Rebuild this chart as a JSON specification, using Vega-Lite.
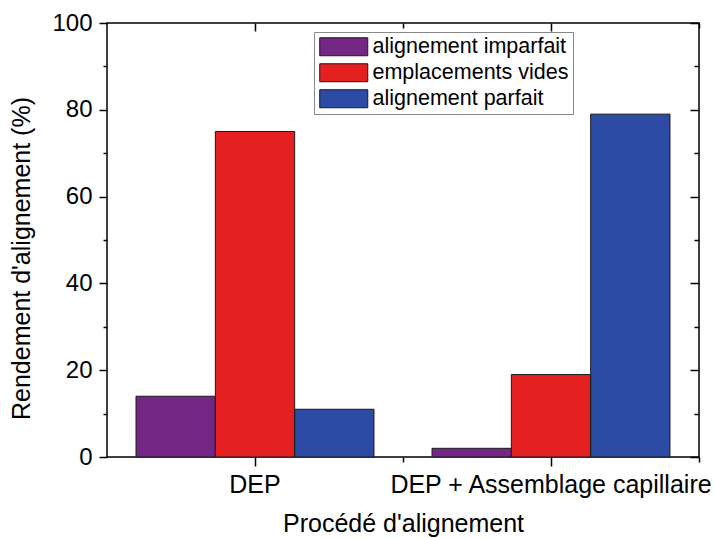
{
  "$schema": "https://vega.github.io/schema/vega-lite/v6.json",
  "autosize": {"type": "none"},
  "width": 592,
  "height": 434,
  "padding": {"left": 107, "top": 23, "right": 15, "bottom": 81},
  "background": "white",
  "config": {
    "view": {"stroke": "black", "strokeWidth": 1.5},
    "font": "Liberation Sans",
    "axis": {
      "labelFont": "Liberation Sans",
      "titleFont": "Liberation Sans",
      "labelColor": "black",
      "titleColor": "black",
      "tickColor": "black",
      "tickWidth": 1.5,
      "titleFontWeight": "normal",
      "labelLimit": 0,
      "grid": false,
      "domain": false
    },
    "legend": {"labelFont": "Liberation Sans", "labelColor": "black", "labelLimit": 0}
  },
  "data": {
    "values": [
      {"Procede": "DEP", "Type": "alignement imparfait", "Rendement": 14},
      {"Procede": "DEP", "Type": "emplacements vides", "Rendement": 75},
      {"Procede": "DEP", "Type": "alignement parfait", "Rendement": 11},
      {"Procede": "DEP + Assemblage capillaire", "Type": "alignement imparfait", "Rendement": 2},
      {"Procede": "DEP + Assemblage capillaire", "Type": "emplacements vides", "Rendement": 19},
      {"Procede": "DEP + Assemblage capillaire", "Type": "alignement parfait", "Rendement": 79}
    ]
  },
  "resolve": {"axis": {"x": "independent", "y": "independent"}},
  "layer": [
    {
      "mark": {"type": "bar", "stroke": "#1a1a1a", "strokeWidth": 1},
      "encoding": {
        "x": {
          "field": "Procede", "type": "nominal",
          "sort": ["DEP", "DEP + Assemblage capillaire"],
          "scale": {"paddingInner": 0, "paddingOuter": 0},
          "axis": {
            "orient": "bottom",
            "title": "Procédé d'alignement",
            "labelAngle": 0,
            "labelFontSize": 25,
            "titleFontSize": 25,
            "tickSize": 9,
            "labelPadding": 6,
            "titlePadding": 14
          }
        },
        "xOffset": {
          "field": "Type", "type": "nominal",
          "sort": ["alignement imparfait", "emplacements vides", "alignement parfait"],
          "scale": {"paddingInner": 0, "paddingOuter": 0.366}
        },
        "y": {
          "field": "Rendement", "type": "quantitative", "stack": null,
          "scale": {"domain": [0, 100], "nice": false},
          "axis": {
            "orient": "left",
            "title": "Rendement d'alignement (%)",
            "values": [0, 10, 20, 30, 40, 50, 60, 70, 80, 90, 100],
            "labelExpr": "datum.value % 20 === 0 ? datum.label : ''",
            "tickSize": {"condition": {"test": "datum.value % 20 === 0", "value": 8}, "value": 4},
            "labelFontSize": 24,
            "titleFontSize": 25,
            "labelPadding": 7,
            "titlePadding": 17,
            "titleY": 235
          }
        },
        "color": {
          "field": "Type", "type": "nominal",
          "scale": {
            "domain": ["alignement imparfait", "emplacements vides", "alignement parfait"],
            "range": ["#732684", "#E42020", "#2D4BA5"]
          },
          "legend": {
            "title": null,
            "orient": "none",
            "legendX": 207,
            "legendY": 9,
            "direction": "vertical",
            "symbolType": "M-2.667,-1L2.667,-1L2.667,1L-2.667,1Z",
            "symbolSize": 324,
            "symbolOffset": 15,
            "symbolStrokeColor": "#1a1a1a",
            "symbolStrokeWidth": 1,
            "symbolOpacity": 1,
            "labelFontSize": 21.5,
            "labelOffset": 18,
            "rowPadding": 3,
            "padding": 4,
            "strokeColor": "#888888",
            "fillColor": "white"
          }
        }
      }
    },
    {
      "mark": {"type": "bar", "opacity": 0},
      "encoding": {
        "x": {
          "field": "Procede", "type": "nominal",
          "sort": ["DEP", "DEP + Assemblage capillaire"],
          "axis": {"orient": "bottom", "bandPosition": 1, "tickSize": 5, "labels": false, "title": null}
        },
        "y": {
          "field": "Rendement", "type": "quantitative", "stack": null,
          "axis": {
            "orient": "right",
            "title": null,
            "labels": false,
            "values": [0, 10, 20, 30, 40, 50, 60, 70, 80, 90, 100],
            "tickSize": {"condition": {"test": "datum.value % 20 === 0", "value": -9}, "value": -5}
          }
        }
      }
    },
    {
      "mark": {"type": "bar", "opacity": 0},
      "encoding": {
        "x": {
          "field": "Procede", "type": "nominal",
          "sort": ["DEP", "DEP + Assemblage capillaire"],
          "axis": {"orient": "top", "tickSize": -8, "labels": false, "title": null}
        },
        "y": {"field": "Rendement", "type": "quantitative", "stack": null, "axis": null}
      }
    },
    {
      "mark": {"type": "bar", "opacity": 0},
      "encoding": {
        "x": {
          "field": "Procede", "type": "nominal",
          "sort": ["DEP", "DEP + Assemblage capillaire"],
          "axis": {"orient": "top", "bandPosition": 1, "tickSize": -5, "labels": false, "title": null}
        },
        "y": {"field": "Rendement", "type": "quantitative", "stack": null, "axis": null}
      }
    }
  ]
}
